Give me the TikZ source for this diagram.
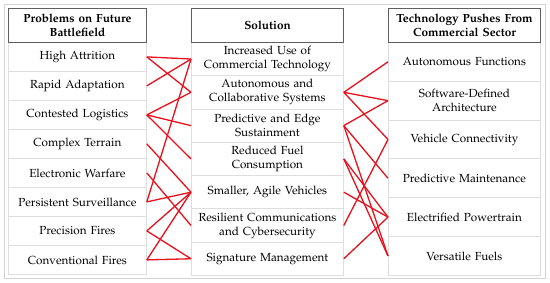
\documentclass[tikz,border=0pt]{standalone}
\usepackage[T1]{fontenc}
\usepackage{mathpazo}
\definecolor{linkred}{RGB}{232,16,28}
\definecolor{hdrgray}{RGB}{95,95,95}
\definecolor{cellgray}{RGB}{222,222,222}
\definecolor{framegray}{RGB}{212,212,212}
\begin{document}
\begin{tikzpicture}[x=1pt,y=-1pt,
  box/.style={inner sep=0pt, anchor=north west, align=center, font=\fontsize{11.7}{14}\selectfont},
  hdr/.style={box, draw=hdrgray, line width=1.1pt, fill=white, minimum height=34pt, font=\fontsize{11.8}{14}\selectfont\bfseries},
  cellL/.style={box, draw=cellgray, line width=0.8pt, minimum width=138pt, text width=136pt, minimum height=29pt},
  cellM/.style={box, draw=cellgray, line width=0.8pt, minimum width=152pt, text width=150pt, minimum height=33.29pt},
  cellR/.style={box, draw=cellgray, line width=0.8pt, minimum width=152pt, text width=150pt, minimum height=38.83pt},
  link/.style={draw=linkred, line width=1.3pt}]
\useasboundingbox (0,0) rectangle (550,283);
\draw[framegray, line width=0.9pt] (4,4) rectangle (545,278);
% left column
\node[cellL] (L1) at (8,42) {High Attrition};
\node[cellL] (L2) at (8,71) {Rapid Adaptation};
\node[cellL] (L3) at (8,100) {Contested Logistics};
\node[cellL] (L4) at (8,129) {Complex Terrain};
\node[cellL] (L5) at (8,158) {Electronic Warfare};
\node[cellL] (L6) at (8,187) {Persistent Surveillance};
\node[cellL] (L7) at (8,216) {Precision Fires};
\node[cellL] (L8) at (8,245) {Conventional Fires};
\node[hdr, minimum width=138pt, text width=136pt] (HL) at (8,8) {Problems on Future\\Battlefield};
% middle column
\node[cellM] (M1) at (191,42) {Increased Use of\\Commercial Technology};
\node[cellM] (M2) at (191,75.29) {Autonomous and\\Collaborative Systems};
\node[cellM] (M3) at (191,108.57) {Predictive and Edge\\Sustainment};
\node[cellM] (M4) at (191,141.86) {Reduced Fuel\\Consumption};
\node[cellM] (M5) at (191,175.14) {Smaller, Agile Vehicles};
\node[cellM] (M6) at (191,208.43) {Resilient Communications\\and Cybersecurity};
\node[cellM] (M7) at (191,241.71) {Signature Management};
\node[hdr, minimum width=152pt, text width=150pt] (HM) at (191,8) {Solution};
% right column
\node[cellR] (R1) at (388,42) {Autonomous Functions};
\node[cellR] (R2) at (388,80.83) {Software-Defined\\Architecture};
\node[cellR] (R3) at (388,119.67) {Vehicle Connectivity};
\node[cellR] (R4) at (388,158.5) {Predictive Maintenance};
\node[cellR] (R5) at (388,197.33) {Electrified Powertrain};
\node[cellR] (R6) at (388,236.17) {Versatile Fuels};
\node[hdr, minimum width=152pt, text width=150pt] (HR) at (388,8) {Technology Pushes From\\Commercial Sector};
% links left-middle
\draw[link] (L1.east) -- (M1.west);
\draw[link] (L1.east) -- (M2.west);
\draw[link] (L2.east) -- (M1.west);
\draw[link] (L3.east) -- (M2.west);
\draw[link] (L3.east) -- (M3.west);
\draw[link] (L3.east) -- (M4.west);
\draw[link] (L4.east) -- (M5.west);
\draw[link] (L5.east) -- (M6.west);
\draw[link] (L6.east) -- (M1.west);
\draw[link] (L6.east) -- (M5.west);
\draw[link] (L7.east) -- (M5.west);
\draw[link] (L7.east) -- (M7.west);
\draw[link] (L8.east) -- (M5.west);
\draw[link] (L8.east) -- (M7.west);
% links middle-right
\draw[link] (M2.east) -- (R1.west);
\draw[link] (M2.east) -- (R2.west);
\draw[link] (M2.east) -- (R3.west);
\draw[link] (M3.east) -- (R2.west);
\draw[link] (M3.east) -- (R4.west);
\draw[link] (M3.east) -- (R6.west);
\draw[link] (M4.east) -- (R5.west);
\draw[link] (M4.east) -- (R6.west);
\draw[link] (M5.east) -- (R5.west);
\draw[link] (M6.east) -- (R3.west);
\draw[link] (M7.east) -- (R5.west);
\end{tikzpicture}
\end{document}
